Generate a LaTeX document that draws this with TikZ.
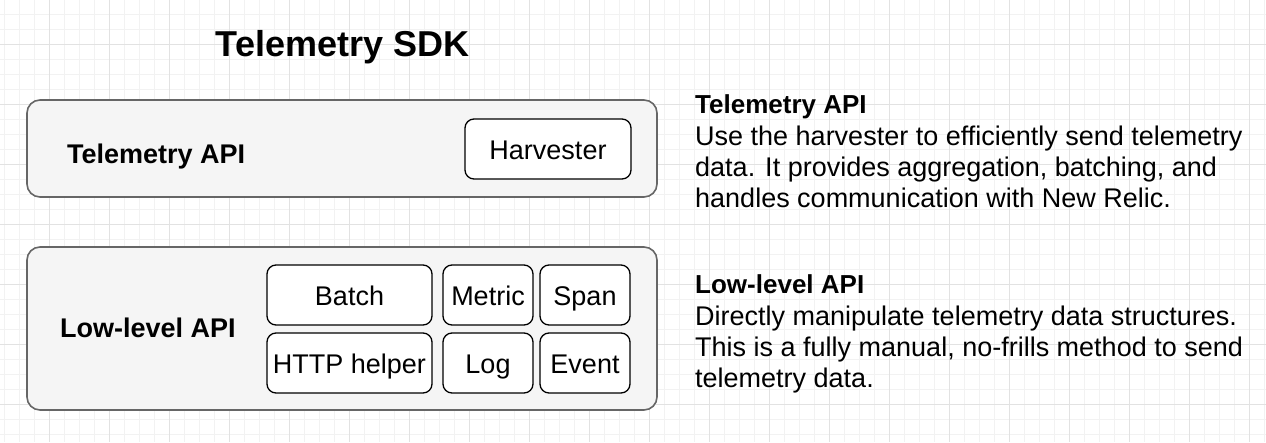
\documentclass[tikz,border=0pt]{standalone}
\usepackage{fontspec}
\setmainfont{Liberation Sans}
\usetikzlibrary{positioning}
\definecolor{boxfill}{HTML}{F5F5F5}
\definecolor{boxline}{HTML}{666666}
\definecolor{gridminor}{HTML}{F2F2F2}
\definecolor{gridmajor}{HTML}{E2E2E2}
\begin{document}
\begin{tikzpicture}[x=1pt,y=-1pt,
  layer/.style={draw=boxline,fill=boxfill,line width=1.6pt,rounded corners=13pt,minimum width=630pt,inner sep=0pt},
  part/.style={draw=black,fill=white,line width=1.3pt,rounded corners=9pt,minimum height=60pt,inner sep=0pt,
    text height=20pt,text depth=0pt,font=\fontsize{27}{31}\selectfont},
  lbl/.style={anchor=base west,inner sep=0pt,font=\fontsize{27}{31}\selectfont\bfseries},
  head/.style={anchor=base west,inner sep=0pt,font=\fontsize{26}{31}\selectfont\bfseries},
  desc/.style={anchor=base west,inner sep=0pt,font=\fontsize{27}{31}\selectfont}]
\useasboundingbox (0,0) rectangle (1266,442);
\fill[white] (0,0) rectangle (1266,442);
% grid
\foreach \gx in {4,19,...,1266} \draw[gridminor,line width=1pt] (\gx,0) -- (\gx,442);
\foreach \gy in {-1,14,...,442} \draw[gridminor,line width=1pt] (0,\gy) -- (1266,\gy);
\foreach \gx in {49,109,...,1266} \draw[gridmajor,line width=1pt] (\gx,0) -- (\gx,442);
\foreach \gy in {44,104,...,442} \draw[gridmajor,line width=1pt] (0,\gy) -- (1266,\gy);

\node[anchor=base,inner sep=0pt,font=\fontsize{36}{40}\selectfont\bfseries] (title) at (342.5,56) {Telemetry SDK};

% layers
\node[layer,minimum height=97pt] (tapi) at (342,148.5) {};
\node[layer,minimum height=163pt] (lapi) at (342,328.5) {};
\node[lbl] (tapilbl) at (67,163) {Telemetry API};
\node[lbl] (lapilbl) at (60,337) {Low-level API};

% parts
\node[part,minimum width=166pt] (harv) at (548,149) {Harvester};
\node[part,minimum width=165pt] (batch) at (349.5,295) {Batch};
\node[part,minimum width=165pt] (http) at (349.5,363) {HTTP helper};
\node[part,minimum width=90pt] (metric) at (488,295) {Metric};
\node[part,minimum width=90pt] (span) at (585,295) {Span};
\node[part,minimum width=90pt] (log) at (488,363) {Log};
\node[part,minimum width=90pt] (event) at (585,363) {Event};

% descriptions
\node[head] (th) at (695,113) {Telemetry API};
\node[desc] (t1) at ([yshift=-32pt]th.base west) {Use the harvester to efficiently send telemetry};
\node[desc] (t2) at ([yshift=-31pt]t1.base west) {data. It provides aggregation, batching, and};
\node[desc] (t3) at ([yshift=-31pt]t2.base west) {handles communication with New Relic.};
\node[head] (lh) at (695,293) {Low-level API};
\node[desc] (l1) at ([yshift=-32pt]lh.base west) {Directly manipulate telemetry data structures.};
\node[desc] (l2) at ([yshift=-31pt]l1.base west) {This is a fully manual, no-frills method to send};
\node[desc] (l3) at ([yshift=-31pt]l2.base west) {telemetry data.};
\end{tikzpicture}
\end{document}
